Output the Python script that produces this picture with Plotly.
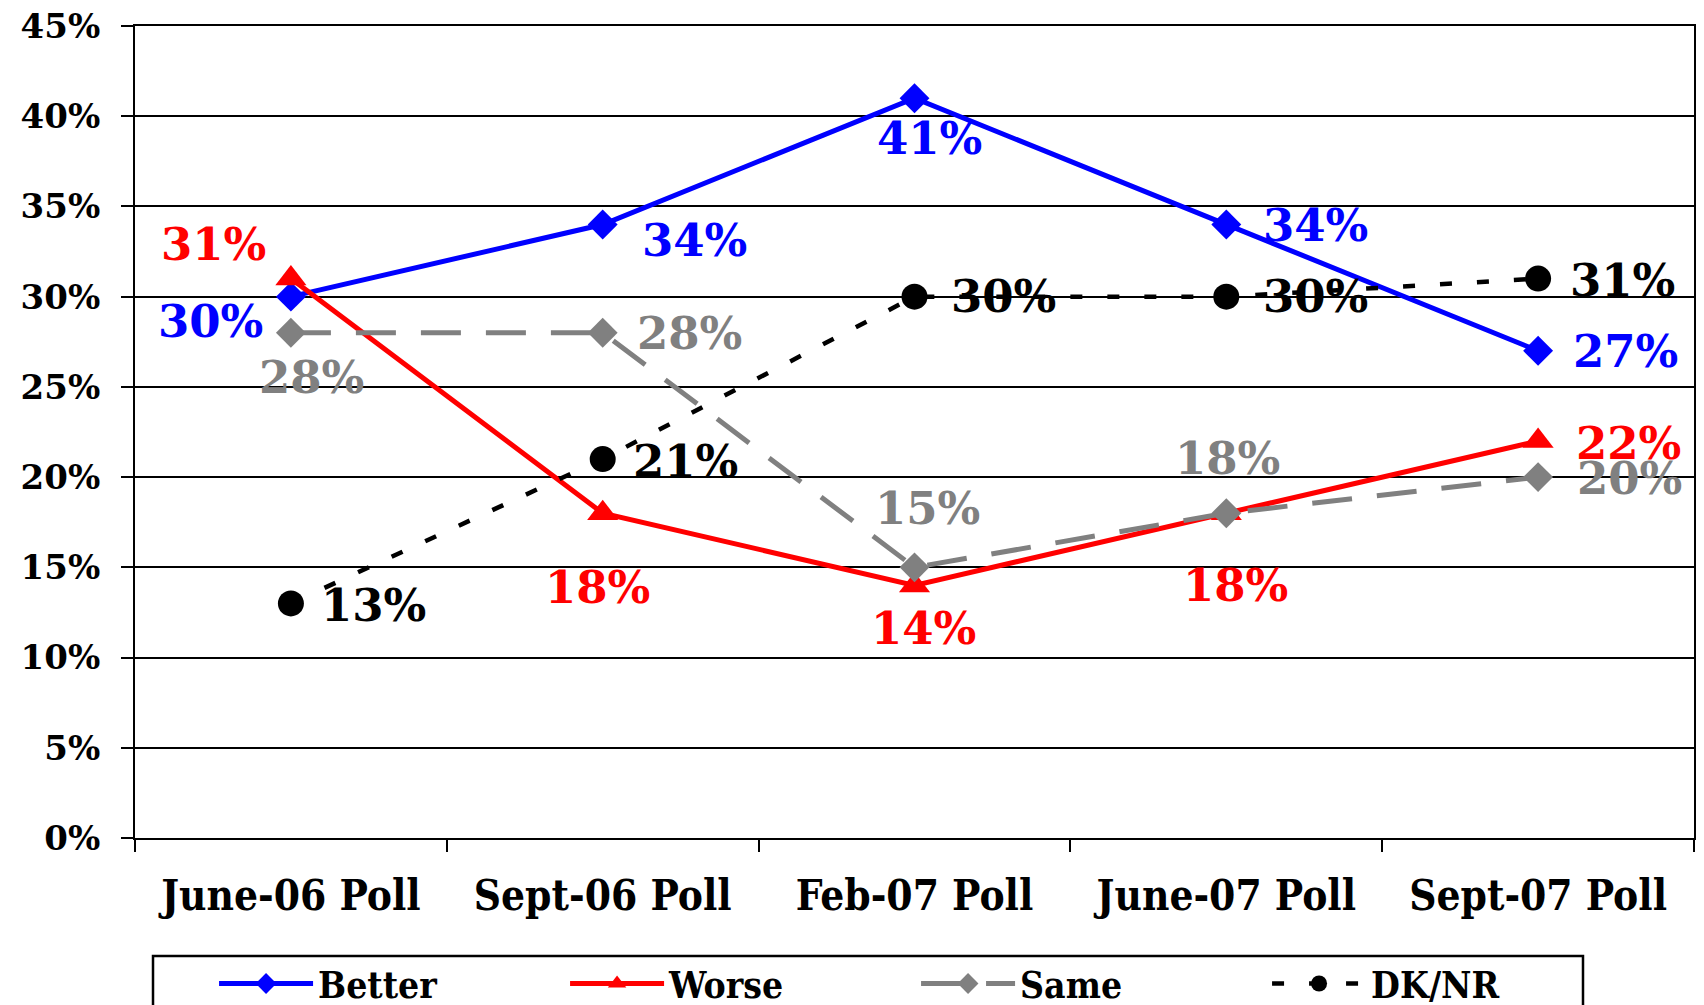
import plotly.graph_objects as go

categories = ["June-06 Poll", "Sept-06 Poll", "Feb-07 Poll", "June-07 Poll", "Sept-07 Poll"]
better = [30, 34, 41, 34, 27]
worse = [31, 18, 14, 18, 22]
same = [28, 28, 15, 18, 20]
dknr = [13, 21, 30, 30, 31]
y_ticks = [0, 5, 10, 15, 20, 25, 30, 35, 40, 45]

# label offsets (pixels) - styling only
off_better = [(-80, -25), (92, -16), (15, -40), (89, -1), (87, -1)]
off_worse = [(-77, 34), (-5, -74), (9, -43), (9, -72), (90, -2)]
off_same = [(21, -45), (87, -1), (13, 59), (1, 55), (91, -1)]
off_dknr = [(83, -2), (83, -2), (89, 0), (89, 0), (84, -2)]

BLUE, RED, GRAY, BLACK = "#0000FF", "#FF0000", "#808080", "#000000"
SERIF = "DejaVu Serif, Liberation Serif, serif"
COND = "DejaVu Serif Condensed, Liberation Serif, serif"

series = [
    ("Better", better, BLUE, dict(color=BLUE, width=5), dict(symbol="diamond", size=23, color=BLUE), off_better),
    ("Worse", worse, RED, dict(color=RED, width=5), dict(symbol="triangle-up", size=27, color=RED), off_worse),
    ("Same", same, GRAY, dict(color=GRAY, width=5, dash="40px,25px"), dict(symbol="diamond", size=23, color=GRAY), off_same),
    ("DK/NR", dknr, BLACK, dict(color=BLACK, width=4.5, dash="12px,25px"), dict(symbol="circle", size=26, color=BLACK), off_dknr),
]

fig = go.Figure()
annotations = []
for name, vals, col, line, marker, offs in series:
    fig.add_trace(go.Scatter(x=categories, y=vals, mode="lines+markers", name=name,
                             line=line, marker=marker))
    for c, v, (dx, dy) in zip(categories, vals, offs):
        annotations.append(dict(x=c, y=v, xref="x", yref="y", text=f"{v}%", showarrow=False,
                                xanchor="center", yanchor="middle", xshift=dx, yshift=dy,
                                font=dict(family=SERIF, size=45, color=col, weight="bold")))

fig.update_layout(
    width=1696, height=997,
    margin=dict(l=127, r=10, t=18, b=167, autoexpand=False),
    paper_bgcolor="white", plot_bgcolor="white",
    annotations=annotations,
    showlegend=True,
    legend=dict(orientation="h", xref="container", yref="container",
                x=0.1215, y=0.0522, xanchor="left", yanchor="top",
                entrywidth=242, entrywidthmode="pixels", itemwidth=94,
                borderwidth=0, bgcolor="rgba(0,0,0,0)",
                font=dict(family=COND, size=37, color=BLACK, weight="bold"),
                traceorder="normal"),
    shapes=[dict(type="rect", xref="paper", yref="paper", x0=0.01155, x1=0.9288, y0=-0.1453, y1=-0.4,
                 line=dict(color=BLACK, width=2.5), fillcolor="rgba(0,0,0,0)", layer="below")],
)

fig.update_xaxes(
    type="category", range=[-0.5, 4.5], tickson="boundaries", automargin=False,
    ticks="outside", ticklen=12, tickwidth=2, tickcolor=BLACK,
    showline=True, linecolor=BLACK, linewidth=2, mirror=True, showgrid=False,
    ticklabelstandoff=20, ticklabeloverflow="allow",
    tickfont=dict(family=COND, size=42, color=BLACK, weight="bold"),
)
fig.update_yaxes(
    range=[0, 45], tickvals=y_ticks, ticktext=[f"{t}%" for t in y_ticks], automargin=False,
    ticks="outside", ticklen=12, tickwidth=2, tickcolor=BLACK,
    showline=True, linecolor=BLACK, linewidth=2, mirror=True,
    showgrid=True, gridcolor=BLACK, gridwidth=1.5, zeroline=False,
    ticklabelstandoff=14, ticklabeloverflow="allow",
    tickfont=dict(family=SERIF, size=34, color=BLACK, weight="bold"),
)

fig.write_html("out.html")
